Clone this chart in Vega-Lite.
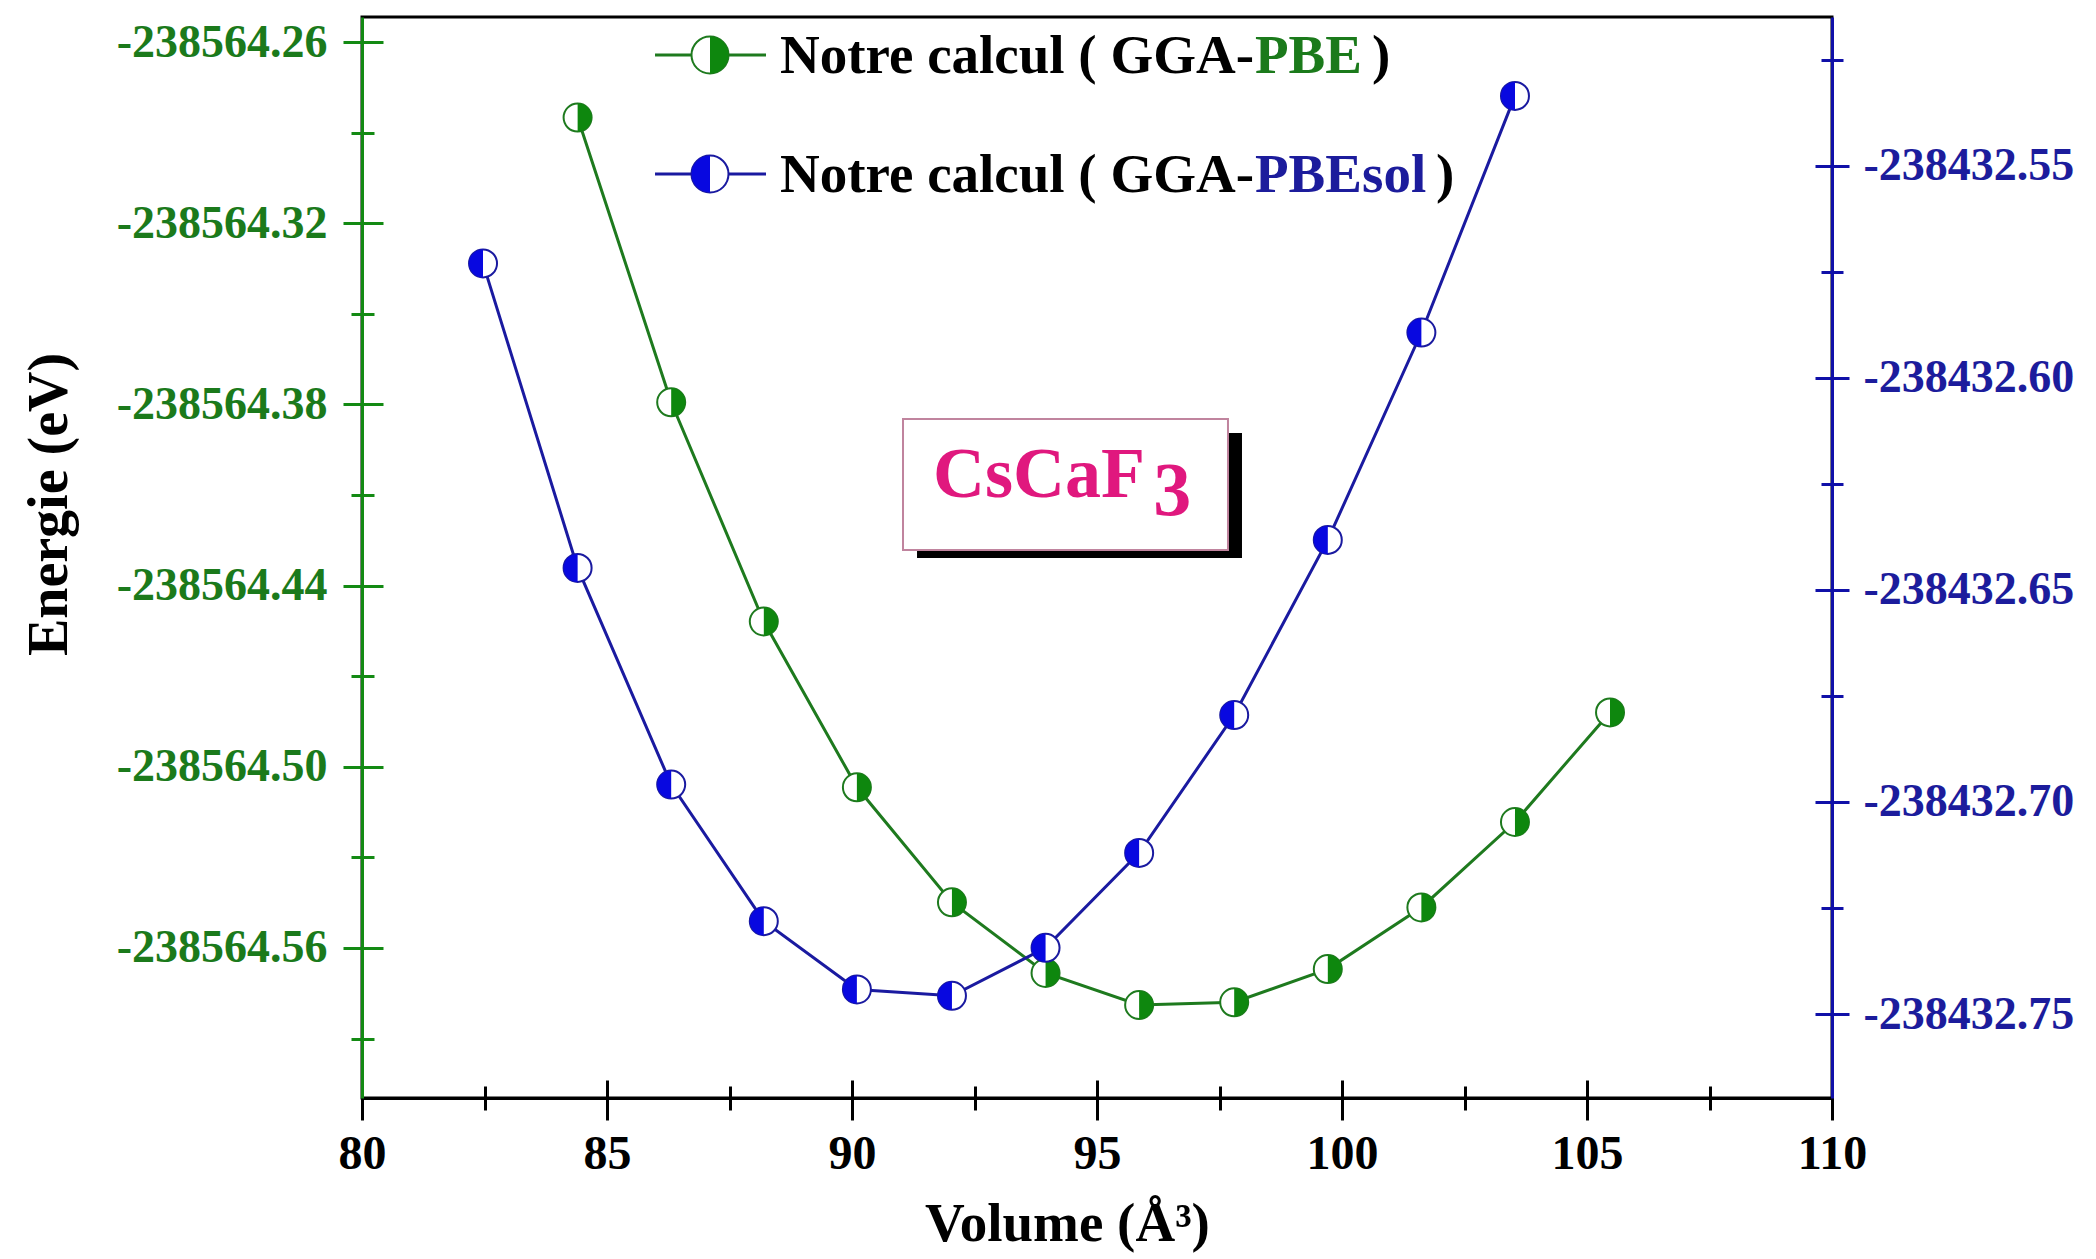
{
  "$schema": "https://vega.github.io/schema/vega-lite/v6.json",
  "width": 1470,
  "height": 1081,
  "autosize": "none",
  "padding": {"left": 362, "top": 17, "right": 264, "bottom": 161},
  "background": "white",
  "config": {
    "view": {"stroke": "black", "strokeWidth": 3},
    "font": "Liberation Serif",
    "axis": {
      "grid": false,
      "labelFont": "Liberation Serif",
      "titleFont": "Liberation Serif",
      "labelFontWeight": "bold",
      "titleFontWeight": "bold",
      "labelFlush": false,
      "labelOverlap": false,
      "labelLimit": 0
    }
  },
  "datasets": {
    "pbe": [
      {"volume": 84.40, "energy": -238564.2850},
      {"volume": 86.31, "energy": -238564.3793},
      {"volume": 88.20, "energy": -238564.4519},
      {"volume": 90.10, "energy": -238564.5068},
      {"volume": 92.04, "energy": -238564.5449},
      {"volume": 93.95, "energy": -238564.5683},
      {"volume": 95.86, "energy": -238564.5789},
      {"volume": 97.80, "energy": -238564.5780},
      {"volume": 99.71, "energy": -238564.5670},
      {"volume": 101.62, "energy": -238564.5466},
      {"volume": 103.53, "energy": -238564.5183},
      {"volume": 105.47, "energy": -238564.4820}
    ],
    "pbesol": [
      {"volume": 82.47, "energy": -238432.5730},
      {"volume": 84.40, "energy": -238432.6448},
      {"volume": 86.31, "energy": -238432.6959},
      {"volume": 88.20, "energy": -238432.7281},
      {"volume": 90.10, "energy": -238432.7442},
      {"volume": 92.04, "energy": -238432.7457},
      {"volume": 93.95, "energy": -238432.7344},
      {"volume": 95.86, "energy": -238432.7120},
      {"volume": 97.80, "energy": -238432.6795},
      {"volume": 99.71, "energy": -238432.6382},
      {"volume": 101.62, "energy": -238432.5893},
      {"volume": 103.53, "energy": -238432.5335}
    ]
  },
  "layer": [
    {
      "data": {"name": "pbe"},
      "layer": [
        {
          "mark": {"type": "line", "color": "#1e7a1e", "strokeWidth": 3},
          "encoding": {
            "x": {
              "field": "volume", "type": "quantitative",
              "scale": {"domain": [80, 110], "nice": false, "zero": false},
              "axis": {
                "orient": "bottom",
                "values": [80, 85, 90, 95, 100, 105, 110],
                "ticks": false,
                "domainColor": "black", "domainWidth": 3,
                "labelFontSize": 48, "labelColor": "black", "labelPadding": 32,
                "title": "Volume (Å³)", "titleFontSize": 55, "titleColor": "black",
                "titleX": 705, "titleY": 142, "titleBaseline": "alphabetic", "titleAlign": "center"
              }
            },
            "y": {
              "field": "energy", "type": "quantitative",
              "scale": {"domain": [-238564.6097, -238564.2517], "nice": false, "zero": false},
              "axis": {
                "orient": "left",
                "values": [-238564.26, -238564.32, -238564.38, -238564.44, -238564.5, -238564.56],
                "labelExpr": "'-' + format(-datum.value, '.2f')",
                "ticks": false,
                "domainColor": "#138a13", "domainWidth": 3,
                "labelFontSize": 46, "labelColor": "#1b7a1b", "labelPadding": 35,
                "labelBaseline": "middle",
                "title": "Energie (eV)", "titleFontSize": 56, "titleColor": "black",
                "titleX": -284, "titleY": 487
              }
            }
          }
        },
        {
          "mark": {"type": "point", "shape": "circle", "filled": true, "fill": "white", "stroke": "#1e7a1e", "strokeWidth": 2, "size": 784, "opacity": 1},
          "encoding": {
            "x": {
              "field": "volume", "type": "quantitative",
              "axis": {
                "orient": "bottom", "values": [80, 85, 90, 95, 100, 105, 110],
                "domain": false, "labels": false, "title": null,
                "ticks": true, "tickSize": 40, "offset": -18, "tickWidth": 3, "tickColor": "black"
              }
            },
            "y": {
              "field": "energy", "type": "quantitative",
              "axis": {
                "orient": "left",
                "values": [-238564.26, -238564.32, -238564.38, -238564.44, -238564.5, -238564.56],
                "domain": false, "labels": false, "title": null,
                "ticks": true, "tickSize": 40, "offset": -21, "tickWidth": 3, "tickColor": "#138a13"
              }
            }
          }
        },
        {
          "mark": {"type": "point", "shape": "M0,-1A1,1,0,0,1,0,1Z", "filled": true, "fill": "#0e870e", "strokeWidth": 0, "size": 784, "opacity": 1},
          "encoding": {
            "x": {
              "field": "volume", "type": "quantitative",
              "axis": {
                "orient": "bottom", "values": [82.5, 87.5, 92.5, 97.5, 102.5, 107.5],
                "domain": false, "labels": false, "title": null,
                "ticks": true, "tickSize": 24, "offset": -12, "tickWidth": 3, "tickColor": "black"
              }
            },
            "y": {
              "field": "energy", "type": "quantitative",
              "axis": {
                "orient": "left",
                "values": [-238564.29, -238564.35, -238564.41, -238564.47, -238564.53, -238564.59],
                "domain": false, "labels": false, "title": null,
                "ticks": true, "tickSize": 23, "offset": -12, "tickWidth": 3, "tickColor": "#138a13"
              }
            }
          }
        },
        {
          "data": {"values": [{}]},
          "mark": {"type": "rect", "color": "black"},
          "encoding": {
            "x": {"datum": 91.327, "type": "quantitative", "axis": null},
            "x2": {"datum": 97.959},
            "y": {"datum": -238564.38947, "type": "quantitative", "axis": null},
            "y2": {"datum": -238564.43086}
          }
        },
        {
          "data": {"values": [{}]},
          "mark": {"type": "rect", "fill": "white", "stroke": "#c0849e", "strokeWidth": 2},
          "encoding": {
            "x": {"datum": 91.041, "type": "quantitative", "axis": null},
            "x2": {"datum": 97.673},
            "y": {"datum": -238564.38483, "type": "quantitative", "axis": null},
            "y2": {"datum": -238564.42821}
          }
        },
        {
          "data": {"values": [{}]},
          "mark": {"type": "text", "text": "CsCaF", "font": "Liberation Serif", "fontWeight": "bold", "fontSize": 72, "color": "#e0187e", "align": "left", "baseline": "alphabetic"},
          "encoding": {
            "x": {"datum": 91.653, "type": "quantitative", "axis": null},
            "y": {"datum": -238564.41066, "type": "quantitative", "axis": null}
          }
        },
        {
          "data": {"values": [{}]},
          "mark": {"type": "text", "text": "3", "font": "Liberation Serif", "fontWeight": "bold", "fontSize": 76, "color": "#e0187e", "align": "left", "baseline": "alphabetic"},
          "encoding": {
            "x": {"datum": 96.15, "type": "quantitative", "axis": null},
            "y": {"datum": -238564.41662, "type": "quantitative", "axis": null}
          }
        },
        {
          "data": {"values": [{}]},
          "mark": {"type": "rule", "color": "#1e7a1e", "strokeWidth": 3},
          "encoding": {
            "x": {"datum": 85.98, "type": "quantitative", "axis": null},
            "x2": {"datum": 88.245},
            "y": {"datum": -238564.2643, "type": "quantitative", "axis": null}
          }
        },
        {
          "data": {"values": [{}]},
          "mark": {"type": "point", "shape": "circle", "filled": true, "fill": "white", "stroke": "#1e7a1e", "strokeWidth": 2, "size": 1369, "opacity": 1},
          "encoding": {
            "x": {"datum": 87.102, "type": "quantitative", "axis": null},
            "y": {"datum": -238564.2643, "type": "quantitative", "axis": null}
          }
        },
        {
          "data": {"values": [{}]},
          "mark": {"type": "point", "shape": "M0,-1A1,1,0,0,1,0,1Z", "filled": true, "fill": "#0e870e", "strokeWidth": 0, "size": 1369, "opacity": 1},
          "encoding": {
            "x": {"datum": 87.102, "type": "quantitative", "axis": null},
            "y": {"datum": -238564.2643, "type": "quantitative", "axis": null}
          }
        },
        {
          "data": {"values": [{}]},
          "mark": {"type": "rule", "color": "#1a1aa0", "strokeWidth": 3},
          "encoding": {
            "x": {"datum": 85.98, "type": "quantitative", "axis": null},
            "x2": {"datum": 88.245},
            "y": {"datum": -238564.3037, "type": "quantitative", "axis": null}
          }
        },
        {
          "data": {"values": [{}]},
          "mark": {"type": "point", "shape": "circle", "filled": true, "fill": "white", "stroke": "#1a1aa0", "strokeWidth": 2, "size": 1369, "opacity": 1},
          "encoding": {
            "x": {"datum": 87.102, "type": "quantitative", "axis": null},
            "y": {"datum": -238564.3037, "type": "quantitative", "axis": null}
          }
        },
        {
          "data": {"values": [{}]},
          "mark": {"type": "point", "shape": "M0,-1A1,1,0,0,0,0,1Z", "filled": true, "fill": "#0808e0", "strokeWidth": 0, "size": 1369, "opacity": 1},
          "encoding": {
            "x": {"datum": 87.102, "type": "quantitative", "axis": null},
            "y": {"datum": -238564.3037, "type": "quantitative", "axis": null}
          }
        },
        {
          "data": {"values": [{}]},
          "mark": {"type": "text", "text": "Notre calcul ( GGA-", "font": "Liberation Serif", "fontWeight": "bold", "fontSize": 55, "color": "black", "align": "left", "baseline": "alphabetic"},
          "encoding": {
            "x": {"datum": 88.531, "type": "quantitative", "axis": null},
            "y": {"datum": -238564.27026, "type": "quantitative", "axis": null}
          }
        },
        {
          "data": {"values": [{}]},
          "mark": {"type": "text", "text": "PBE", "font": "Liberation Serif", "fontWeight": "bold", "fontSize": 55, "color": "#1b7a1b", "align": "left", "baseline": "alphabetic", "dx": 475},
          "encoding": {
            "x": {"datum": 88.531, "type": "quantitative", "axis": null},
            "y": {"datum": -238564.27026, "type": "quantitative", "axis": null}
          }
        },
        {
          "data": {"values": [{}]},
          "mark": {"type": "text", "text": ")", "font": "Liberation Serif", "fontWeight": "bold", "fontSize": 55, "color": "black", "align": "left", "baseline": "alphabetic", "dx": 592},
          "encoding": {
            "x": {"datum": 88.531, "type": "quantitative", "axis": null},
            "y": {"datum": -238564.27026, "type": "quantitative", "axis": null}
          }
        },
        {
          "data": {"values": [{}]},
          "mark": {"type": "text", "text": "Notre calcul ( GGA-", "font": "Liberation Serif", "fontWeight": "bold", "fontSize": 55, "color": "black", "align": "left", "baseline": "alphabetic"},
          "encoding": {
            "x": {"datum": 88.531, "type": "quantitative", "axis": null},
            "y": {"datum": -238564.30967, "type": "quantitative", "axis": null}
          }
        },
        {
          "data": {"values": [{}]},
          "mark": {"type": "text", "text": "PBEsol", "font": "Liberation Serif", "fontWeight": "bold", "fontSize": 55, "color": "#1c1c9c", "align": "left", "baseline": "alphabetic", "dx": 475},
          "encoding": {
            "x": {"datum": 88.531, "type": "quantitative", "axis": null},
            "y": {"datum": -238564.30967, "type": "quantitative", "axis": null}
          }
        },
        {
          "data": {"values": [{}]},
          "mark": {"type": "text", "text": ")", "font": "Liberation Serif", "fontWeight": "bold", "fontSize": 55, "color": "black", "align": "left", "baseline": "alphabetic", "dx": 656},
          "encoding": {
            "x": {"datum": 88.531, "type": "quantitative", "axis": null},
            "y": {"datum": -238564.30967, "type": "quantitative", "axis": null}
          }
        }
      ],
      "resolve": {"axis": {"x": "independent", "y": "independent"}}
    },
    {
      "data": {"name": "pbesol"},
      "layer": [
        {
          "mark": {"type": "line", "color": "#1a1aa0", "strokeWidth": 3},
          "encoding": {
            "x": {"field": "volume", "type": "quantitative", "axis": null},
            "y": {
              "field": "energy", "type": "quantitative",
              "scale": {"domain": [-238432.7698, -238432.5149], "nice": false, "zero": false},
              "axis": {
                "orient": "right",
                "values": [-238432.55, -238432.6, -238432.65, -238432.7, -238432.75],
                "labelExpr": "'-' + format(-datum.value, '.2f')",
                "ticks": false,
                "domainColor": "#1010a8", "domainWidth": 3,
                "labelFontSize": 46, "labelColor": "#1c1c9c", "labelPadding": 31,
                "labelBaseline": "middle",
                "title": null
              }
            }
          }
        },
        {
          "mark": {"type": "point", "shape": "circle", "filled": true, "fill": "white", "stroke": "#1a1aa0", "strokeWidth": 2, "size": 784, "opacity": 1},
          "encoding": {
            "x": {"field": "volume", "type": "quantitative", "axis": null},
            "y": {
              "field": "energy", "type": "quantitative",
              "axis": {
                "orient": "right",
                "values": [-238432.55, -238432.6, -238432.65, -238432.7, -238432.75],
                "domain": false, "labels": false, "title": null,
                "ticks": true, "tickSize": 34, "offset": -17, "tickWidth": 3, "tickColor": "#1010a8"
              }
            }
          }
        },
        {
          "mark": {"type": "point", "shape": "M0,-1A1,1,0,0,0,0,1Z", "filled": true, "fill": "#0808e0", "strokeWidth": 0, "size": 784, "opacity": 1},
          "encoding": {
            "x": {"field": "volume", "type": "quantitative", "axis": null},
            "y": {
              "field": "energy", "type": "quantitative",
              "axis": {
                "orient": "right",
                "values": [-238432.525, -238432.575, -238432.625, -238432.675, -238432.725],
                "domain": false, "labels": false, "title": null,
                "ticks": true, "tickSize": 22, "offset": -11, "tickWidth": 3, "tickColor": "#1010a8"
              }
            }
          }
        }
      ],
      "resolve": {"axis": {"y": "independent"}}
    }
  ],
  "resolve": {"scale": {"y": "independent"}}
}
